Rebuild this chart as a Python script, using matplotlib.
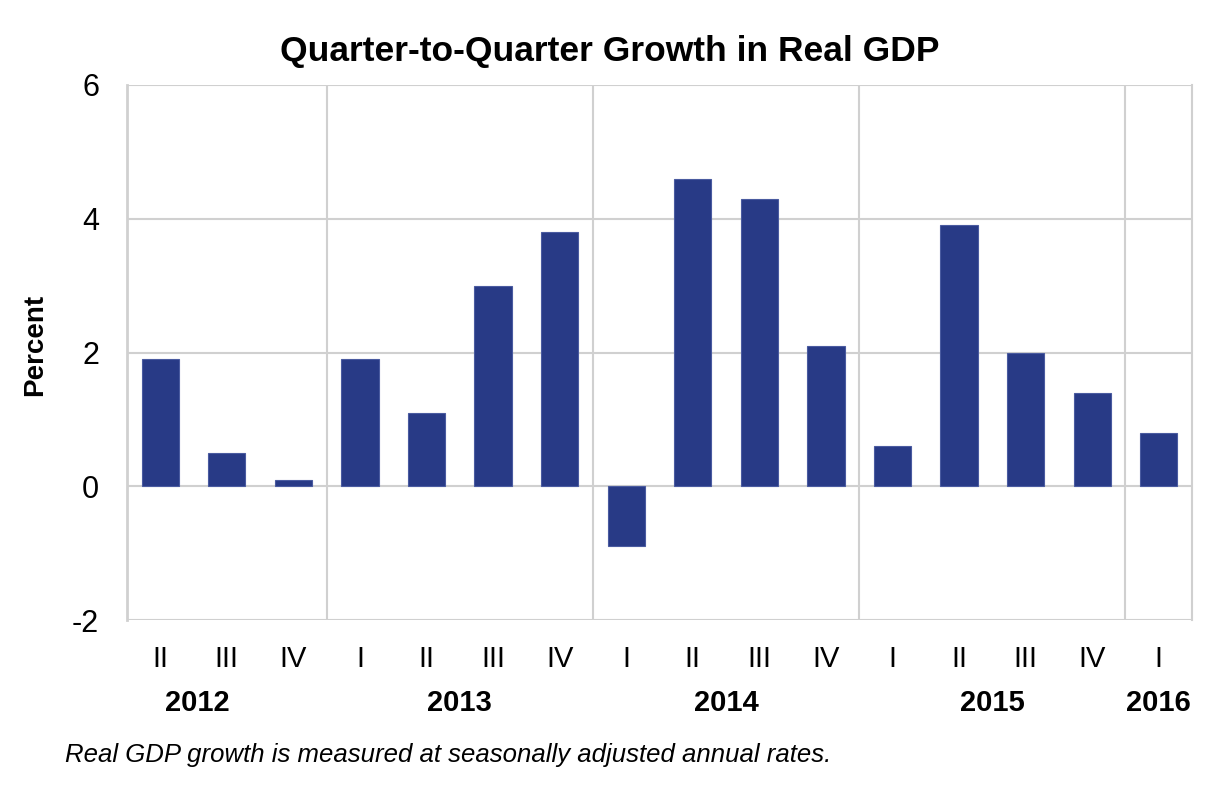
import matplotlib.pyplot as plt
import numpy as np

plt.rcParams['font.family'] = ['Liberation Sans', 'DejaVu Sans']

# data
quarters = ['II', 'III', 'IV', 'I', 'II', 'III', 'IV', 'I', 'II', 'III', 'IV', 'I', 'II', 'III', 'IV', 'I']
growth = [1.9, 0.5, 0.1, 1.9, 1.1, 3.0, 3.8, -0.9, 4.6, 4.3, 2.1, 0.6, 3.9, 2.0, 1.4, 0.8]
years = ['2012', '2013', '2014', '2015', '2016']
year_sizes = [3, 4, 4, 4, 1]

bar_color = '#283a86'
grid_color = '#d0d0d0'

fig = plt.figure(figsize=(12.05, 7.88), dpi=100)
ax = fig.add_axes([127/1205, 1 - 620/788, (1192-127)/1205, 535/788])

x = np.arange(len(growth))
ax.bar(x, growth, width=0.56, color=bar_color, edgecolor='#4a5ba0', linewidth=0.8, zorder=3)

ax.set_xlim(-0.5, len(growth) - 0.5)
ax.set_ylim(-2, 6)
ax.set_yticks([-2, 0, 2, 4, 6])
ax.set_yticklabels(['-2', '0', '2', '4', '6'], fontsize=22)
ax.tick_params(axis='y', length=0, pad=20)
ax.set_xticks([])
ax.grid(axis='y', color=grid_color, linewidth=1.5, zorder=0)

for s in ['top', 'bottom']:
    ax.spines[s].set_visible(False)
ax.spines['left'].set_color(grid_color)
ax.spines['left'].set_linewidth(2)
ax.spines['right'].set_color(grid_color)
ax.spines['right'].set_linewidth(1.5)

# year separators
bounds = np.cumsum(year_sizes)[:-1] - 0.5
for b in bounds:
    ax.axvline(b, color=grid_color, linewidth=1.5, zorder=1)

# quarter labels
for xi, q in zip(x, quarters):
    ax.text(xi, -2.58, q, ha='center', va='center', fontsize=21)

# year labels
year_pos = [0.55, 4.5, 8.5, 12.5, 15]
for xp, yr in zip(year_pos, years):
    ax.text(xp, -3.24, yr, ha='center', va='center', fontsize=21, fontweight='bold')

fig.text(35/1205, 1 - 345/788, 'Percent', rotation=90, ha='center', va='center',
         fontsize=20, fontweight='bold')
fig.text(610/1205, 1 - 51/788, 'Quarter-to-Quarter Growth in Real GDP', ha='center', va='center',
         fontsize=25.5, fontweight='bold')
fig.text(65/1205, 1 - 755/788, 'Real GDP growth is measured at seasonally adjusted annual rates.',
         ha='left', va='center', fontsize=18.5, style='italic')

fig.savefig('out.png', dpi=100)
